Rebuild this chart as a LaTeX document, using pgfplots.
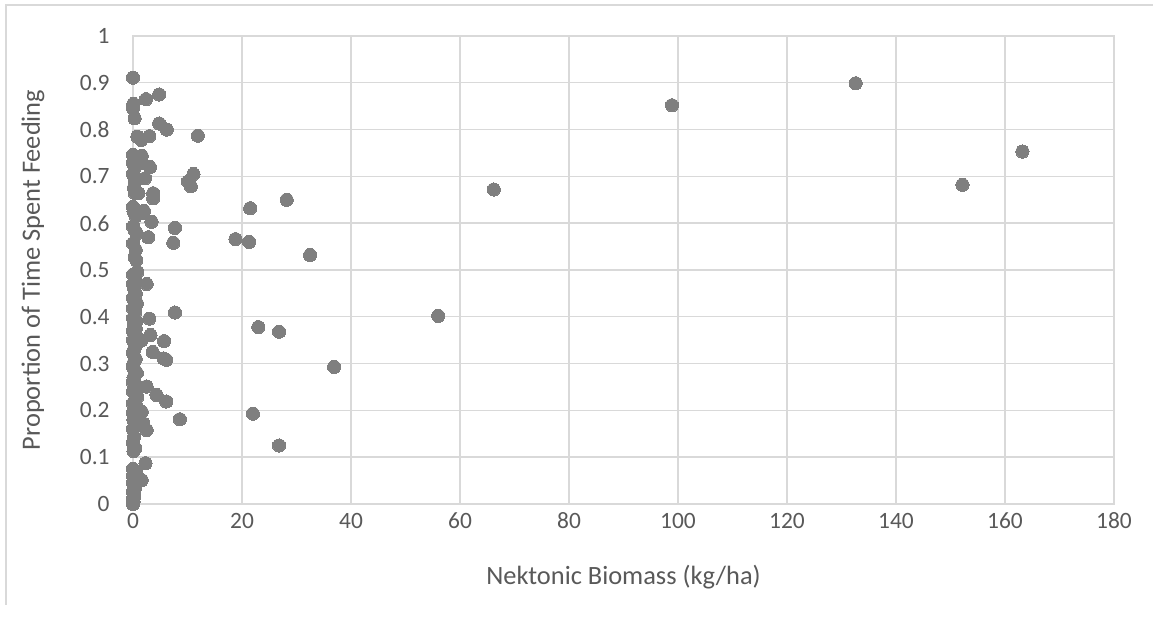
\documentclass[border=0pt]{standalone}
\usepackage{pgfplots}
\pgfplotsset{compat=1.18}
\usepackage{fontspec}
\setmainfont{Carlito}
\definecolor{txt}{HTML}{595959}
\definecolor{grd}{HTML}{D9D9D9}
\definecolor{mk}{HTML}{7F7F7F}
\begin{document}
\begin{tikzpicture}[x=0.5pt,y=0.5pt]
\path[use as bounding box, fill=white] (0,0) rectangle (1153,621);
\draw[grd, line width=0.6pt] (6,16) -- (6,616) -- (1153,616);
\begin{axis}[
  at={(66.5pt,58.5pt)}, anchor=south west,
  scale only axis, width=490.5pt, height=234pt,
  xmin=0, xmax=180, ymin=0, ymax=1,
  xtick={0,20,40,60,80,100,120,140,160,180},
  xticklabels={0,20,40,60,80,100,120,140,160,180},
  ytick={0,0.1,0.2,0.3,0.4,0.5,0.6,0.7,0.8,0.9,1},
  yticklabels={0,0.1,0.2,0.3,0.4,0.5,0.6,0.7,0.8,0.9,1},
  major tick length=0pt,
  grid=major,
  major grid style={grd, line width=0.7pt},
  axis line style={grd, line width=0.7pt},
  xticklabel style={font=\fontsize{11.7}{14}\selectfont, text=txt, anchor=base, inner sep=0pt, yshift=-12.5pt},
  yticklabel style={font=\fontsize{11.7}{14}\selectfont, text=txt, anchor=east, inner sep=0pt, xshift=-11.5pt},
  xlabel={Nektonic Biomass (kg/ha)},
  ylabel={Proportion of Time Spent Feeding},
  xlabel style={font=\fontsize{13.2}{15}\selectfont, text=txt, at={(rel axis cs:0.5,0)}, anchor=center, inner sep=0pt, yshift=-36.5pt},
  ylabel style={font=\fontsize{13.2}{15}\selectfont, text=txt, at={(rel axis cs:0,0.5)}, anchor=center, inner sep=0pt, yshift=50pt},
  clip=false,
]
\addplot[only marks, mark=*, color=mk, mark size=3.3pt, mark options={draw=mk, fill=mk, line width=0pt}] table {
x y
11.9 0.787
11.1 0.705
10.1 0.689
10.6 0.679
28.2 0.650
21.5 0.632
7.7 0.590
18.8 0.566
21.3 0.560
32.5 0.532
7.7 0.409
23.0 0.378
26.8 0.368
36.9 0.293
8.6 0.181
22.0 0.193
26.8 0.125
56.0 0.402
66.2 0.672
98.9 0.852
132.6 0.899
152.2 0.682
163.2 0.753
4.8 0.875
2.4 0.865
4.8 0.813
6.2 0.800
3.0 0.786
1.5 0.778
0.8 0.785
3.1 0.720
1.6 0.744
1.6 0.728
2.2 0.696
3.7 0.664
3.7 0.653
1.0 0.664
1.9 0.622
2.0 0.626
3.4 0.603
2.8 0.570
7.4 0.558
2.5 0.470
3.0 0.396
3.2 0.361
1.6 0.350
5.7 0.348
3.6 0.325
5.6 0.311
6.1 0.308
2.5 0.251
4.3 0.233
6.1 0.219
1.6 0.197
1.9 0.172
2.5 0.158
2.3 0.087
1.6 0.051
0.0 0.911
0.1 0.855
0.0 0.846
0.3 0.824
0.0 0.746
0.2 0.735
0.0 0.728
0.3 0.718
0.0 0.705
0.4 0.689
0.2 0.676
0.3 0.665
0.0 0.635
0.1 0.625
0.5 0.615
0.0 0.593
0.3 0.585
0.7 0.578
0.0 0.557
0.5 0.543
0.3 0.528
0.6 0.521
0.8 0.496
0.0 0.490
0.4 0.482
0.0 0.470
0.2 0.461
0.5 0.450
0.0 0.440
0.3 0.432
0.7 0.429
0.0 0.418
0.4 0.410
0.0 0.397
0.6 0.390
0.2 0.384
0.5 0.375
0.0 0.370
0.3 0.360
0.0 0.350
0.6 0.340
0.2 0.330
0.0 0.322
0.5 0.310
0.1 0.300
0.0 0.293
0.4 0.285
0.7 0.280
0.1 0.270
0.0 0.260
0.5 0.255
0.2 0.245
0.0 0.240
0.8 0.229
0.3 0.220
0.0 0.215
0.6 0.210
0.2 0.200
0.0 0.194
0.5 0.185
0.1 0.180
0.4 0.170
0.0 0.160
0.2 0.144
0.0 0.130
0.4 0.119
0.1 0.113
0.0 0.075
0.5 0.070
0.2 0.065
0.0 0.060
0.3 0.050
0.0 0.045
0.4 0.035
0.1 0.030
0.0 0.025
0.2 0.016
0.0 0.010
0.1 0.005
0.0 0.000
};
\end{axis}
\end{tikzpicture}
\end{document}
